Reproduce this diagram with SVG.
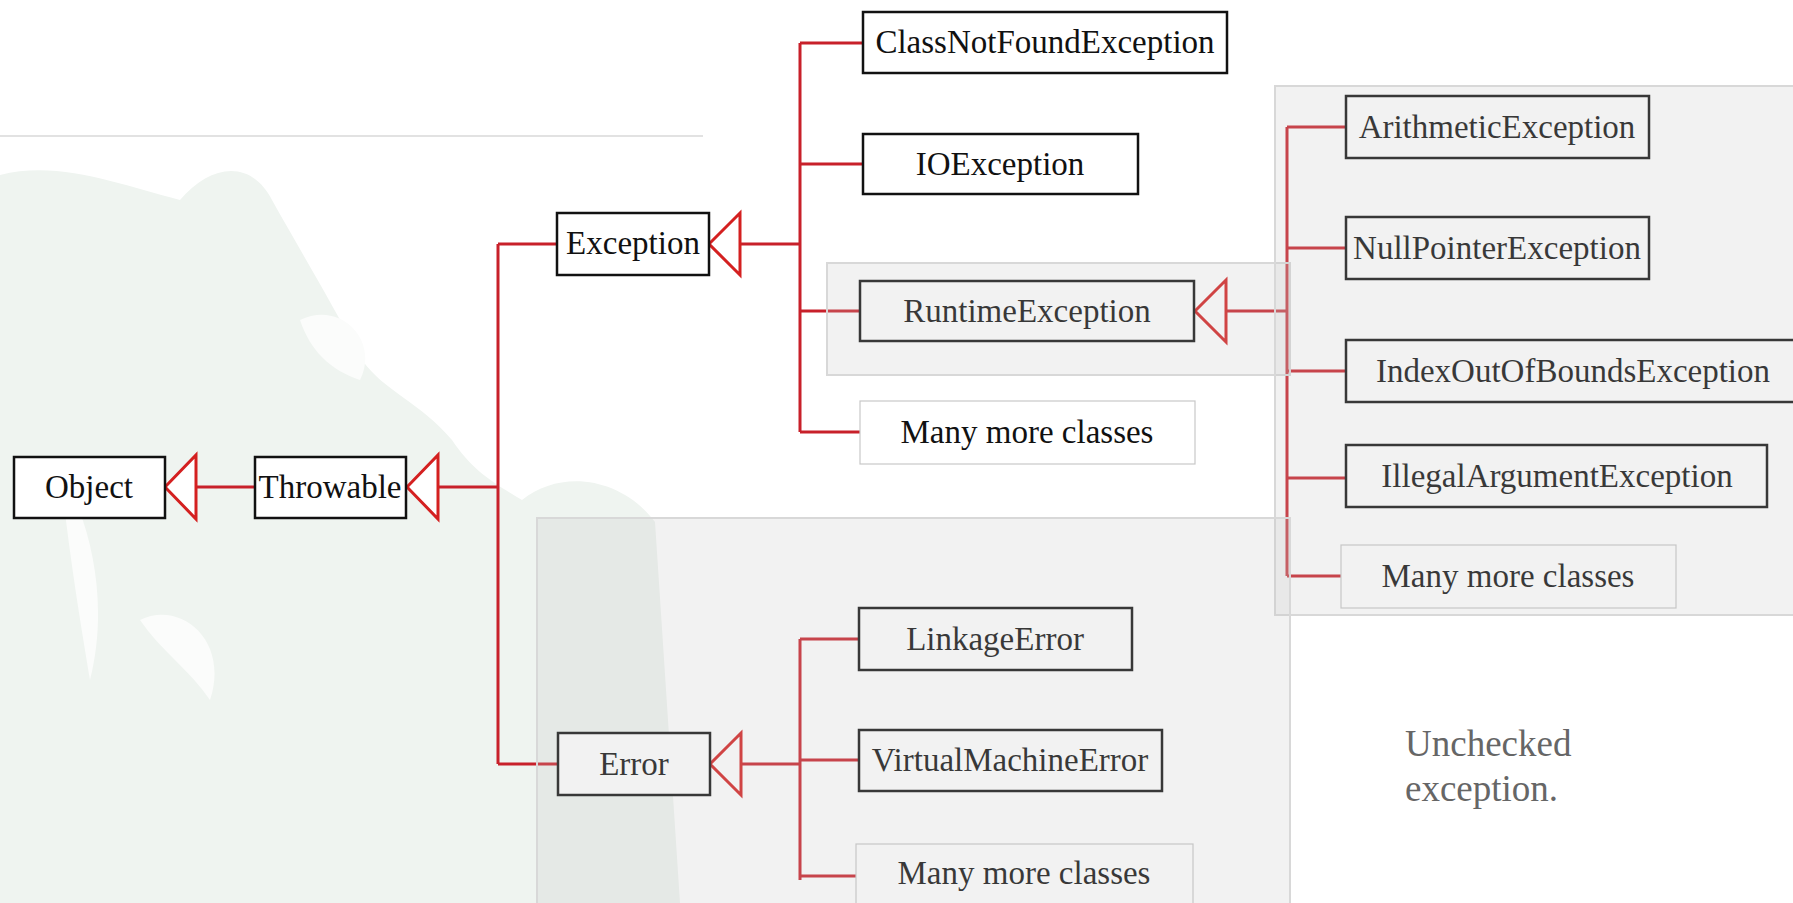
<svg xmlns="http://www.w3.org/2000/svg" width="1793" height="903" viewBox="0 0 1793 903">
<style>
.box{fill:#fff;stroke:#111;stroke-width:2.5}
.more{fill:#fff;stroke:#c8c8c8;stroke-width:1.2}
.t{font-family:"Liberation Serif","Times New Roman",serif;font-size:33px;fill:#111;text-anchor:middle}
.c{fill:none;stroke:#c8202a;stroke-width:3}
.tri{fill:#fff;stroke:#d42020;stroke-width:3;stroke-linejoin:miter}
.panel{fill:#c4c4c4;fill-opacity:0.22;stroke:#d8d8d8;stroke-width:2}
.note{font-family:"Liberation Serif","Times New Roman",serif;font-size:37px;fill:#666}
</style>
<rect width="1793" height="903" fill="#fff"/>
<path d="M0,175 C60,160 120,185 180,200 C210,165 250,158 272,200 C300,250 330,300 362,360 C385,392 420,402 452,440 C472,470 492,482 522,500 C562,468 622,478 655,522 L680,903 L0,903 Z" fill="#eff4f0"/>
<path d="M60,470 C90,520 110,600 90,680 C80,620 70,560 60,470 Z M300,320 C340,300 380,340 360,380 C330,370 310,350 300,320 Z M140,620 C180,600 230,640 210,700 C190,670 160,650 140,620 Z" fill="#fbfcfb"/>
<line x1="0" y1="136" x2="703" y2="136" stroke="#e2e2e2" stroke-width="2"/>

<g id="connectors">
<path class="c" d="M196,487 H255"/>
<path class="c" d="M438,487 H498 M498,244 V764 M498,244 H557 M498,764 H558"/>
<path class="c" d="M740,244 H800 M800,43 V432 M800,43 H863 M800,164 H863 M800,311 H860 M800,432 H860"/>
<path class="c" d="M740,764 H800 M800,639 V880 M800,639 H859 M800,760 H859 M800,876 H856"/>
<path class="c" d="M1226,311 H1287 M1287,127 V576 M1287,127 H1346 M1287,248 H1346 M1287,371 H1346 M1287,478 H1346 M1287,576 H1341"/>
<polygon class="tri" points="165,487 196,455 196,519"/>
<polygon class="tri" points="407,487 438,455 438,519"/>
<polygon class="tri" points="709,244 740,213 740,275"/>
<polygon class="tri" points="710,764 741,733 741,795"/>
<polygon class="tri" points="1195,311 1226,280 1226,342"/>
</g>

<g id="object"><rect class="box" x="14" y="457" width="151" height="61"/><text class="t" x="89" y="498">Object</text></g>
<g id="throwable"><rect class="box" x="255" y="457" width="151" height="61"/><text class="t" x="330" y="498">Throwable</text></g>
<g id="exception"><rect class="box" x="557" y="213" width="152" height="62"/><text class="t" x="633" y="254">Exception</text></g>
<g id="error"><rect class="box" x="558" y="733" width="152" height="62"/><text class="t" x="634" y="775">Error</text></g>
<g id="classnotfound"><rect class="box" x="863" y="12" width="364" height="61"/><text class="t" x="1045" y="53">ClassNotFoundException</text></g>
<g id="ioexception"><rect class="box" x="863" y="134" width="275" height="60"/><text class="t" x="1000" y="175">IOException</text></g>
<g id="runtime"><rect class="box" x="860" y="281" width="334" height="60"/><text class="t" x="1027" y="322">RuntimeException</text></g>
<g id="more1"><rect class="more" x="860" y="401" width="335" height="63"/><text class="t" x="1027" y="443">Many more classes</text></g>
<g id="arith"><rect class="box" x="1346" y="96" width="303" height="62"/><text class="t" x="1497" y="138">ArithmeticException</text></g>
<g id="nullptr"><rect class="box" x="1346" y="217" width="303" height="62"/><text class="t" x="1497" y="259">NullPointerException</text></g>
<g id="index"><rect class="box" x="1346" y="340" width="460" height="62"/><text class="t" x="1573" y="382">IndexOutOfBoundsException</text></g>
<g id="illegal"><rect class="box" x="1346" y="445" width="421" height="62"/><text class="t" x="1557" y="487">IllegalArgumentException</text></g>
<g id="more2"><rect class="more" x="1341" y="545" width="335" height="63"/><text class="t" x="1508" y="587">Many more classes</text></g>
<g id="linkage"><rect class="box" x="859" y="608" width="273" height="62"/><text class="t" x="995" y="650">LinkageError</text></g>
<g id="vme"><rect class="box" x="859" y="730" width="303" height="61"/><text class="t" x="1010" y="771">VirtualMachineError</text></g>
<g id="more3"><rect class="more" x="856" y="844" width="337" height="70"/><text class="t" x="1024" y="884">Many more classes</text></g>

<g id="panels">
<rect class="panel" x="827" y="263" width="463" height="112"/>
<rect class="panel" x="1275" y="86" width="530" height="529"/>
<rect class="panel" x="537" y="518" width="753" height="400"/>
</g>
<g id="note"><text class="note" x="1405" y="756">Unchecked</text><text class="note" x="1405" y="801">exception.</text></g>
</svg>
